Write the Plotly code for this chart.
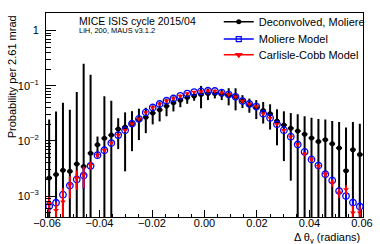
import plotly.graph_objects as go

# ---------------- data ----------------
n_bins = 46
bin_step = 0.002631
theta = [round(-0.0592 + i * bin_step, 5) for i in range(n_bins)]

deconv = [2.13e-3, 2.45e-3, 2.92e-3, 2.80e-3, 3.82e-3, 3.43e-3, 5.97e-3, 8.47e-3,
          1.11e-2, 1.27e-2, 1.64e-2, 1.78e-2, 2.05e-2, 2.43e-2, 2.68e-2, 3.19e-2,
          3.65e-2, 4.29e-2, 4.91e-2, 5.47e-2, 6.10e-2, 6.53e-2, 6.89e-2, 7.18e-2,
          7.18e-2, 6.98e-2, 6.70e-2, 6.27e-2, 5.33e-2, 4.53e-2, 3.98e-2, 3.56e-2,
          3.10e-2, 2.28e-2, 1.93e-2, 1.69e-2, 1.51e-2, 1.32e-2, 1.13e-2, 9.7e-3,
          1.05e-2, 8.83e-3, 7.41e-3, 2.88e-3, 6.92e-3, 5.65e-3]
deconv_err = [0.0222, 0.0317, 0.0462, 0.0337, 0.0729, 0.245, 0.151, 0.0035,
              0.0532, 0.0406, 0.0093, 0.015, 0.014, 0.014, 0.013, 0.012,
              0.014, 0.015, 0.015, 0.014, 0.014, 0.012, 0.030, 0.017,
              0.013, 0.015, 0.023, 0.027, 0.014, 0.013, 0.015, 0.015,
              0.015, 0.0145, 0.015, 0.015, 0.0152, 0.0147, 0.0148, 0.0153,
              0.014, 0.014, 0.0146, 0.0145, 0.015, 0.0148]

moliere = [6.5e-4, 7.55e-4, 1.06e-3, 1.55e-3, 2.0e-3, 2.35e-3, 3.52e-3, 5.51e-3,
           6.75e-3, 9.12e-3, 1.27e-2, 1.56e-2, 2.04e-2, 2.5e-2, 3.28e-2, 4.02e-2,
           4.65e-2, 5.33e-2, 5.86e-2, 6.53e-2, 7.18e-2, 7.67e-2, 7.87e-2, 8.09e-2,
           8.0e-2, 7.46e-2, 6.89e-2, 6.27e-2, 5.25e-2, 4.65e-2, 4.18e-2, 3.10e-2,
           2.6e-2, 1.99e-2, 1.56e-2, 1.19e-2, 8.59e-3, 6.3e-3, 4.61e-3, 3.57e-3,
           2.48e-3, 1.92e-3, 1.23e-3, 1.0e-3, 7.6e-4, 6.45e-4]
moliere_err = [1.5e-4, 1.5e-4, 2.0e-4, 3.0e-4, 6.0e-4, 1.0e-3, 4.0e-4, 4.0e-4,
               4.0e-4, 5.0e-4, 6.0e-4, 6.0e-4, 7.0e-4, 8.0e-4, 9.0e-4, 1.0e-3,
               1.0e-3, 1.1e-3, 1.1e-3, 1.2e-3, 1.2e-3, 1.2e-3, 1.2e-3, 1.2e-3,
               1.2e-3, 1.2e-3, 1.2e-3, 1.1e-3, 1.1e-3, 1.0e-3, 1.0e-3, 9.0e-4,
               8.0e-4, 7.0e-4, 6.0e-4, 5.0e-4, 4.0e-4, 4.0e-4, 3.0e-4, 3.0e-4,
               2.5e-4, 2.0e-4, 1.5e-4, 1.5e-4, 1.5e-4, 1.5e-4]

carlisle = [7.4e-4, 5.5e-4, 7.9e-4, 1.6e-3, 2.1e-3, 2.4e-3, 3.6e-3, 5.51e-3,
            6.75e-3, 9.12e-3, 1.27e-2, 1.56e-2, 2.04e-2, 2.5e-2, 3.28e-2, 4.02e-2,
            4.65e-2, 5.33e-2, 5.86e-2, 6.53e-2, 7.18e-2, 7.67e-2, 7.87e-2, 8.09e-2,
            8.0e-2, 7.46e-2, 6.89e-2, 6.27e-2, 5.25e-2, 4.65e-2, 4.18e-2, 3.10e-2,
            2.6e-2, 1.99e-2, 1.56e-2, 1.19e-2, 8.59e-3, 5.8e-3, 4.61e-3, 3.47e-3,
            2.48e-3, 1.72e-3, 1.15e-3, 1.31e-3, 5.0e-4, 5.0e-4]
carlisle_err = [2.5e-4, 2.2e-4, 6.0e-4, 7.0e-4, 8.0e-4, 1.0e-3, 6.0e-4, 5.0e-4,
                5.0e-4, 6.0e-4, 7.0e-4, 7.0e-4, 8.0e-4, 9.0e-4, 1.0e-3, 1.1e-3,
                1.2e-3, 1.2e-3, 1.3e-3, 1.3e-3, 1.4e-3, 1.4e-3, 1.4e-3, 1.4e-3,
                1.4e-3, 1.4e-3, 1.3e-3, 1.3e-3, 1.2e-3, 1.2e-3, 1.1e-3, 1.0e-3,
                9.0e-4, 8.0e-4, 7.0e-4, 6.0e-4, 5.0e-4, 4.0e-4, 4.0e-4, 3.0e-4,
                3.0e-4, 2.6e-4, 2.2e-4, 2.5e-4, 1.7e-4, 1.5e-4]

series_names = ["Deconvolved, Moliere", "Moliere Model", "Carlisle-Cobb Model"]
y_tickvals = [1e-3, 1e-2, 1e-1, 1]
y_ticktext = ["10<sup>\u22123</sup>", "10<sup>\u22122</sup>", "10<sup>\u22121</sup>", "1"]
y_minorvals = [m * 10.0 ** e for e in range(-4, 1) for m in range(2, 10)]

FONT = "Liberation Sans, Arial, sans-serif"
BLACK, BLUE, RED = "#000000", "#0000ff", "#ff0000"

fig = go.Figure()

fig.add_trace(go.Scatter(
    x=theta, y=deconv, mode="markers", showlegend=False,
    marker=dict(symbol="circle", size=5, color=BLACK),
    error_y=dict(type="data", array=deconv_err, color=BLACK, thickness=2, width=0),
    error_x=dict(type="constant", value=0.0011, color=BLACK, thickness=2, width=0),
))
fig.add_trace(go.Scatter(
    x=theta, y=moliere, mode="markers", showlegend=False,
    marker=dict(symbol="circle-open", size=6.5, color=BLUE, line=dict(width=1.3, color=BLUE)),
    error_y=dict(type="data", array=moliere_err, color=BLUE, thickness=2, width=0),
))
fig.add_trace(go.Scatter(
    x=theta, y=carlisle, mode="markers", showlegend=False,
    marker=dict(symbol="triangle-down", size=5, color=RED),
    error_y=dict(type="data", array=carlisle_err, color=RED, thickness=2, width=0),
))

# legend entries (line + marker, like the original), one legend box per entry
legend_styles = [
    dict(color=BLACK, symbol="circle", size=4),
    dict(color=BLUE, symbol="square-open", size=5),
    dict(color=RED, symbol="triangle-down", size=5),
]
legend_ids = ["legend", "legend2", "legend3"]
for name, st, lid in zip(series_names, legend_styles, legend_ids):
    fig.add_trace(go.Scatter(
        x=[None], y=[None], mode="lines+markers", name=name, legend=lid,
        line=dict(color=st["color"], width=1.5),
        marker=dict(symbol=st["symbol"], size=st["size"], color=st["color"],
                    line=dict(width=1.2, color=st["color"])),
    ))

legend_common = dict(x=0.545, xanchor="left", yanchor="middle",
                     bgcolor="rgba(255,255,255,0)", borderwidth=0,
                     font=dict(family=FONT, size=11, color="black"),
                     itemwidth=30)

fig.update_layout(
    width=380, height=244,
    margin=dict(l=46, r=12, t=7, b=27),
    paper_bgcolor="white", plot_bgcolor="white",
    font=dict(family=FONT, size=11, color="black"),
    legend=dict(y=0.957, **legend_common),
    legend2=dict(y=0.872, **legend_common),
    legend3=dict(y=0.795, **legend_common),
    xaxis=dict(
        range=[-0.0604, 0.0604], showgrid=False, zeroline=False,
        showline=True, linecolor="black", linewidth=1, mirror=True,
        ticks="inside", ticklen=7, tickwidth=1, tickcolor="black",
        tick0=0, dtick=0.02, tickformat=".2f",
        tickfont=dict(size=11), ticklabelstandoff=-4,
        minor=dict(ticks="inside", ticklen=3.5, dtick=0.005, tick0=0, tickcolor="black"),
    ),
    yaxis=dict(
        type="log", range=[-3.38, 0.317], showgrid=False, zeroline=False,
        showline=True, linecolor="black", linewidth=1, mirror=True,
        ticks="inside", ticklen=10, tickwidth=1, tickcolor="black",
        tickmode="array", tickvals=y_tickvals, ticktext=y_ticktext,
        tickfont=dict(size=11), ticklabelstandoff=4,
        minor=dict(ticks="inside", ticklen=5, tickmode="array", tickvals=y_minorvals,
                   tickcolor="black"),
    ),
    annotations=[
        dict(text="MICE ISIS cycle 2015/04", xref="paper", yref="paper",
             x=0.099, y=0.962, xanchor="left", yanchor="middle", showarrow=False,
             font=dict(size=10.5)),
        dict(text="LiH, 200, MAUS v3.1.2", xref="paper", yref="paper",
             x=0.099, y=0.912, xanchor="left", yanchor="middle", showarrow=False,
             font=dict(size=7.5)),
        dict(text="\u0394 \u03b8<sub>y</sub> (radians)", xref="paper", yref="paper",
             x=0.997, y=-0.103, xanchor="right", yanchor="middle", showarrow=False,
             font=dict(size=11)),
        dict(text="Probability per 2.61 mrad", xref="paper", yref="paper",
             x=-0.108, y=1.0, xanchor="center", yanchor="top", textangle=-90,
             showarrow=False, font=dict(size=11)),
    ],
)

fig.write_html("out.html", config={"displayModeBar": False},
               post_script="document.body.style.margin='0';document.body.style.overflow='hidden';")
